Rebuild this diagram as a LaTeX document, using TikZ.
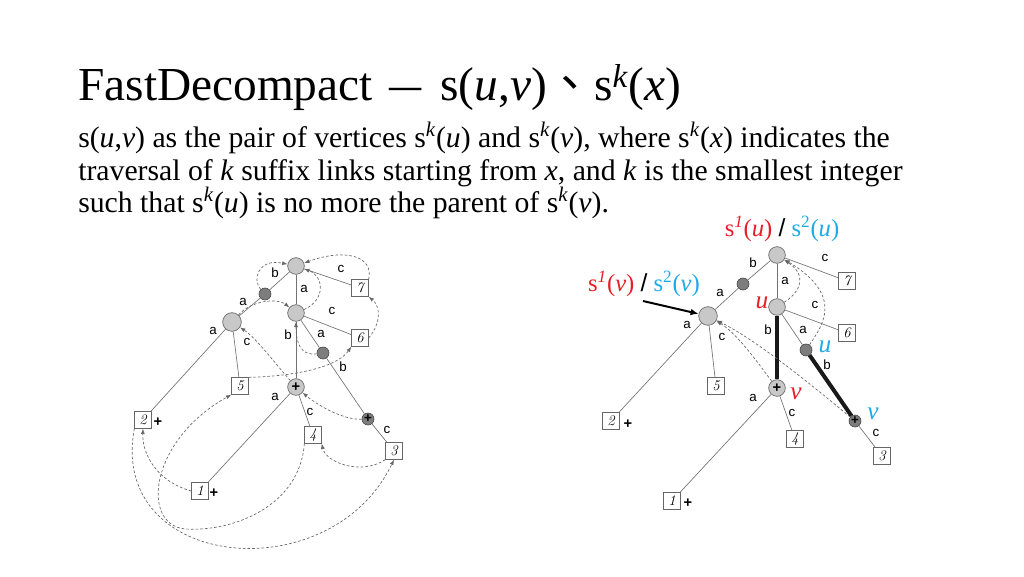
\documentclass[tikz,border=0pt]{standalone}
\usepackage{fontspec}
\usepackage{graphicx}
\usetikzlibrary{arrows.meta}
\newfontfamily\tnr{Liberation Serif}
\newfontfamily\lsans{Liberation Sans}
\newfontfamily\cjk{Noto Sans CJK TC}
\definecolor{sred}{RGB}{230,30,40}
\definecolor{sblue}{RGB}{30,170,230}
\definecolor{nodegray}{RGB}{200,200,200}
\definecolor{dnode}{RGB}{125,125,125}
\tikzset{
  big/.style={circle,draw=black!60,fill=nodegray,line width=0.5pt,minimum size=12.5pt,inner sep=0pt,font=\lsans\bfseries\fontsize{11}{11}\selectfont},
  bigL/.style={big,minimum size=14pt},
  sml/.style={circle,draw=black!70,fill=dnode,line width=0.5pt,minimum size=9pt,inner sep=0pt,font=\lsans\bfseries\fontsize{10}{10}\selectfont},
  leaf/.style={draw=black!60,line width=0.5pt,minimum size=12.5pt,inner sep=0pt,font=\fontsize{11}{11}\selectfont\itshape},
  tedge/.style={draw=black!55,line width=0.5pt},
  thick edge/.style={draw=black!90,line width=3pt},
  lbl/.style={font=\lsans\fontsize{10}{10}\selectfont,inner sep=0pt},
  plusmark/.style={font=\lsans\bfseries\fontsize{11}{11}\selectfont,inner sep=0pt},
  link/.style={dash pattern=on 2pt off 1.5pt,draw=black!60,line width=0.5pt,-{Latex[length=4pt,width=3pt]}},
  body/.style={anchor=base west,inner sep=0pt,font=\tnr\fontsize{22.3}{26}\selectfont},
  clbl/.style={inner sep=0pt,font=\tnr\fontsize{18.5}{20}\selectfont},
  ulbl/.style={inner sep=0pt,font=\tnr\itshape\fontsize{19}{19}\selectfont},
}
\begin{document}
\begin{tikzpicture}[x=0.75pt,y=-0.75pt]
\useasboundingbox (0,0) rectangle (1024,576);
% Title and text
\node[anchor=base west,inner sep=0pt,font=\tnr\fontsize{35.5}{40}\selectfont] (title) at (78,100)
  {FastDecompact\hspace{0.35em}\scalebox{0.68}[1]{—}\hspace{0.4em}s(\textit{u},\textit{v}){\cjk 、}s\textsuperscript{\textit{k}}(\textit{x})};
\node[body] (l1) at (78,147) {s(\textit{u},\textit{v}) as the pair of vertices s\textsuperscript{\textit{k}}(\textit{u}) and s\textsuperscript{\textit{k}}(\textit{v}), where s\textsuperscript{\textit{k}}(\textit{x}) indicates the};
\node[body] (l2) at (78,180) {traversal of \textit{k} suffix links starting from \textit{x}, and \textit{k} is the smallest integer};
\node[body] (l3) at (78,212) {such that s\textsuperscript{\textit{k}}(\textit{u}) is no more the parent of s\textsuperscript{\textit{k}}(\textit{v}).};

% ---------------- Left tree ----------------
\node[big] (R) at (296,266) {};
\node[sml] (D1) at (265,294) {};
\node[bigL] (L) at (232,322) {};
\node[big] (M) at (296,313) {};
\node[sml] (D2) at (323,353) {};
\node[big] (P) at (296,387) {+};
\node[sml] (Q) at (368,419) {+};
\node[leaf] (k7) at (360,288) {7};
\node[leaf] (k6) at (360,338) {6};
\node[leaf] (k5) at (240,386) {5};
\node[leaf] (k2) at (143,420) {2};
\node[leaf] (k4) at (313,435) {4};
\node[leaf] (k3) at (394,451) {3};
\node[leaf] (k1) at (200,491) {1};
\node[plusmark] (p2) at (158,422) {+};
\node[plusmark] (p1) at (214,493) {+};

\draw[tedge] (R) -- (D1) -- (L);
\draw[tedge] (L) -- (k2);
\draw[tedge] (L) -- (k5);
\draw[tedge] (R) -- (M);
\draw[tedge] (R) -- (k7);
\draw[tedge] (M) -- (P);
\draw[tedge] (M) -- (k6);
\draw[tedge] (M) -- (D2) -- (Q);
\draw[tedge] (P) -- (k1);
\draw[tedge] (P) -- (k4);
\draw[tedge] (Q) -- (k3);

\node[lbl] (e1) at (275,273) {b};
\node[lbl] (e2) at (243,302) {a};
\node[lbl] (e3) at (213,331) {a};
\node[lbl] (e4) at (247,342) {c};
\node[lbl] (e5) at (304,289) {a};
\node[lbl] (e6) at (341,269) {c};
\node[lbl] (e7) at (332,311) {c};
\node[lbl] (e8) at (288,335) {b};
\node[lbl] (e9) at (321,334) {a};
\node[lbl] (e10) at (343,367) {b};
\node[lbl] (e11) at (275,397) {a};
\node[lbl] (e12) at (310,412) {c};
\node[lbl] (e13) at (387,430) {c};

\draw[link] (D1) .. controls (252,280) and (258,258) .. (R);
\draw[link] (M) .. controls (326,300) and (324,276) .. (R);
\draw[link] (k7.north east) .. controls (374,256) and (345,248) .. (R);
\draw[link] (k6.east) .. controls (382,322) and (380,306) .. (k7.south east);
\draw[link] (L) .. controls (252,300) and (278,298) .. (M);
\draw[link] (D2) .. controls (300,356) and (296,342) .. (M);
\draw[link] (k5.north east) .. controls (300,376) and (338,366) .. (k6.south west);
\draw[link] (P) .. controls (274,362) and (256,338) .. (L);
\draw[link] (Q) .. controls (342,420) and (316,404) .. (P);
\draw[link] (k1.west) .. controls (158,482) and (142,455) .. (k2.south);
\draw[link] (k2.south west) .. controls (108,570) and (330,592) .. (k3.south);
\coordinate (lowA) at (185,529);
\draw[link] (k4.south west) .. controls (300,505) and (235,532) .. (lowA) .. controls (140,524) and (150,440) .. (k5.south west);
\draw[link] (k3.south west) .. controls (360,476) and (326,462) .. (k4.south east);

% ---------------- Right tree ----------------
\node[big] (RR) at (777,255) {};
\node[sml] (RD1) at (743,284) {};
\node[bigL] (RL) at (708,316) {};
\node[big] (RM) at (777,307) {};
\node[sml] (RD2) at (806,350) {};
\node[big] (RP) at (777,388) {+};
\node[sml] (RQ) at (855,421) {+};
\node[leaf] (r7) at (847,281) {7};
\node[leaf] (r6) at (847,333) {6};
\node[leaf] (r5) at (716,386) {5};
\node[leaf] (r2) at (611,421) {2};
\node[leaf] (r4) at (795,439) {4};
\node[leaf] (r3) at (882,456) {3};
\node[leaf] (r1) at (672,501) {1};
\node[plusmark] (rp2) at (628,424) {+};
\node[plusmark] (rp1) at (688,503) {+};

\draw[tedge] (RR) -- (RD1) -- (RL);
\draw[tedge] (RL) -- (r2);
\draw[tedge] (RL) -- (r5);
\draw[tedge] (RR) -- (RM);
\draw[tedge] (RR) -- (r7);
\draw[tedge] (RM) -- (r6);
\draw[tedge] (RM) -- (RD2);
\draw[tedge] (RP) -- (r1);
\draw[tedge] (RP) -- (r4);
\draw[tedge] (RQ) -- (r3);
\draw[thick edge] (RM) -- (RP);
\draw[thick edge] (RD2) -- (RQ);

\node[lbl] (f1) at (753,263) {b};
\node[lbl] (f2) at (720,293) {a};
\node[lbl] (f3) at (687,325) {a};
\node[lbl] (f4) at (722,337) {c};
\node[lbl] (f5) at (785,281) {a};
\node[lbl] (f6) at (825,258) {c};
\node[lbl] (f7) at (815,305) {c};
\node[lbl] (f8) at (768,330) {b};
\node[lbl] (f9) at (803,330) {a};
\node[lbl] (f10) at (827,365) {b};
\node[lbl] (f11) at (753,398) {a};
\node[lbl] (f12) at (792,413) {c};
\node[lbl] (f13) at (876,433) {c};

\draw[link] (RM) .. controls (800,292) and (808,276) .. (RR);
\draw[link] (RD2) .. controls (822,326) and (845,296) .. (RR);
\draw[link] (RP) .. controls (760,366) and (738,334) .. (RL);
\draw[link] (RQ) .. controls (820,392) and (760,342) .. (RL);

\node[clbl] (su) at (782,229) {\textcolor{sred}{s\textsuperscript{\textit{1}}(\textit{u})} {\lsans /} \textcolor{sblue}{s\textsuperscript{2}(\textit{u})}};
\node[clbl] (sv) at (644,284) {\textcolor{sred}{s\textsuperscript{\textit{1}}(\textit{v})} {\lsans /} \textcolor{sblue}{s\textsuperscript{2}(\textit{v})}};
\coordinate (arrS) at (643,301);
\draw[line width=1.5pt,-{Latex[length=6pt,width=5pt]}] (arrS) -- (RL);

\node[ulbl,text=sred] (uR) at (762,303) {u};
\node[ulbl,text=sblue] (uB) at (825,347) {u};
\node[ulbl,text=sred] (vR) at (796,394) {v};
\node[ulbl,text=sblue] (vB) at (873,414) {v};
\end{tikzpicture}
\end{document}
